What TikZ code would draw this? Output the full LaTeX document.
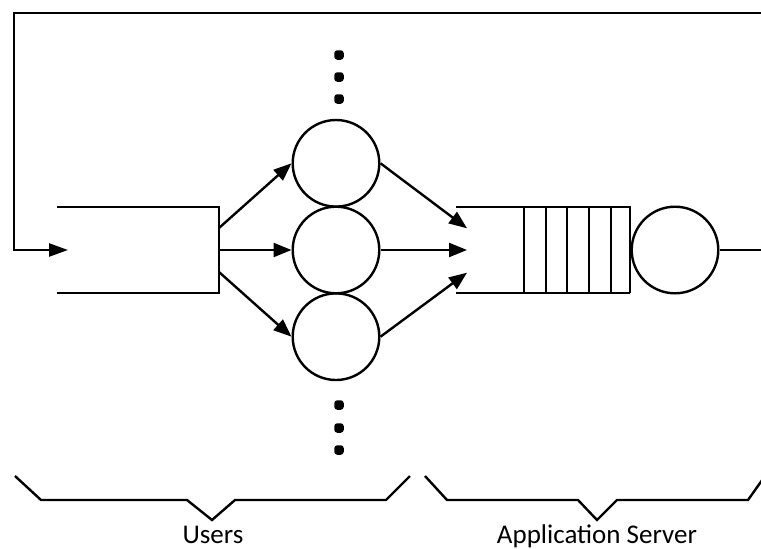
\documentclass[tikz,border=0pt]{standalone}
\usepackage{fontspec}
\setmainfont{Carlito}
\usetikzlibrary{arrows.meta}
\begin{document}
\begin{tikzpicture}[x=1pt,y=-1pt,line width=2.4pt,
  station/.style={circle,draw,minimum size=86.6pt,inner sep=0pt,line width=2.4pt},
  flow/.style={-{Triangle[length=18pt,width=14pt]}},
  feed/.style={-{Triangle[length=19pt,width=13pt]}},
  dotmark/.style={rounded corners=3pt,fill,inner sep=0pt,minimum size=9.5pt},
  lbl/.style={font=\fontsize{27}{30}\selectfont,anchor=base,inner sep=0pt}]
\useasboundingbox (0,0) rectangle (761,549);
\clip (0,0) rectangle (761,549);

% users' think-time stations
\node[station] (u1) at (336,163.3) {};
\node[station] (u2) at (336,250) {};
\node[station] (u3) at (336,336.7) {};

% ellipsis above and below
\foreach \y [count=\i] in {55,77,99} \node[dotmark] (dt\i) at (339,\y) {};
\foreach \y [count=\i] in {405,428,450} \node[dotmark] (db\i) at (339,\y) {};

% users' buffer
\coordinate (uqtl) at (57,207);
\coordinate (uqtr) at (219,207);
\coordinate (uqbr) at (219,293);
\coordinate (uqbl) at (57,293);
\draw (uqtl) -- (uqtr) -- (uqbr) -- (uqbl);
\coordinate (uo1) at (219,228);
\coordinate (uo2) at (219,250);
\coordinate (uo3) at (219,272);
\draw[flow] (uo1) -- (u1.west);
\draw[flow] (uo2) -- (u2.west);
\draw[flow] (uo3) -- (u3.west);

% application server queue
\coordinate (sqtl) at (456,207);
\coordinate (sqtr) at (630,207);
\coordinate (sqbl) at (456,293);
\coordinate (sqbr) at (630,293);
\draw (sqtl) -- (sqtr) -- (sqbr);
\draw (sqbl) -- (sqbr);
\foreach \x in {524,546,567,589,611}
  \draw (\x,207) -- (\x,293);
\node[station] (srv) at (675,250) {};

% arrivals at the server queue
\coordinate (si1) at (467,228.3);
\coordinate (si2) at (467,250);
\coordinate (si3) at (467,272.7);
\draw[flow] (u1.east) -- (si1);
\draw[flow] (u2.east) -- (si2);
\draw[flow] (u3.east) -- (si3);

% feedback loop back to the users
\coordinate (fbin) at (770,13);
\coordinate (fbc1) at (14,13);
\coordinate (fbc2) at (14,250);
\coordinate (fbtip) at (68,250);
\draw[feed] (fbin) -- (fbc1) -- (fbc2) -- (fbtip);
\coordinate (srvout) at (770,250);
\draw (srv.east) -- (srvout);

% braces
\draw (15,476) -- (41,500) -- (187,500) -- (212,520) -- (235,500) -- (386,500) -- (410,476);
\draw (425,476) -- (447,500) -- (578,500) -- (597,520) -- (617,500) -- (748,500) -- (765,476);

% labels
\node[lbl] (lu) at (213,543) {Users};
\node[lbl] (ls) at (597,543) {Application Server};
\end{tikzpicture}
\end{document}
